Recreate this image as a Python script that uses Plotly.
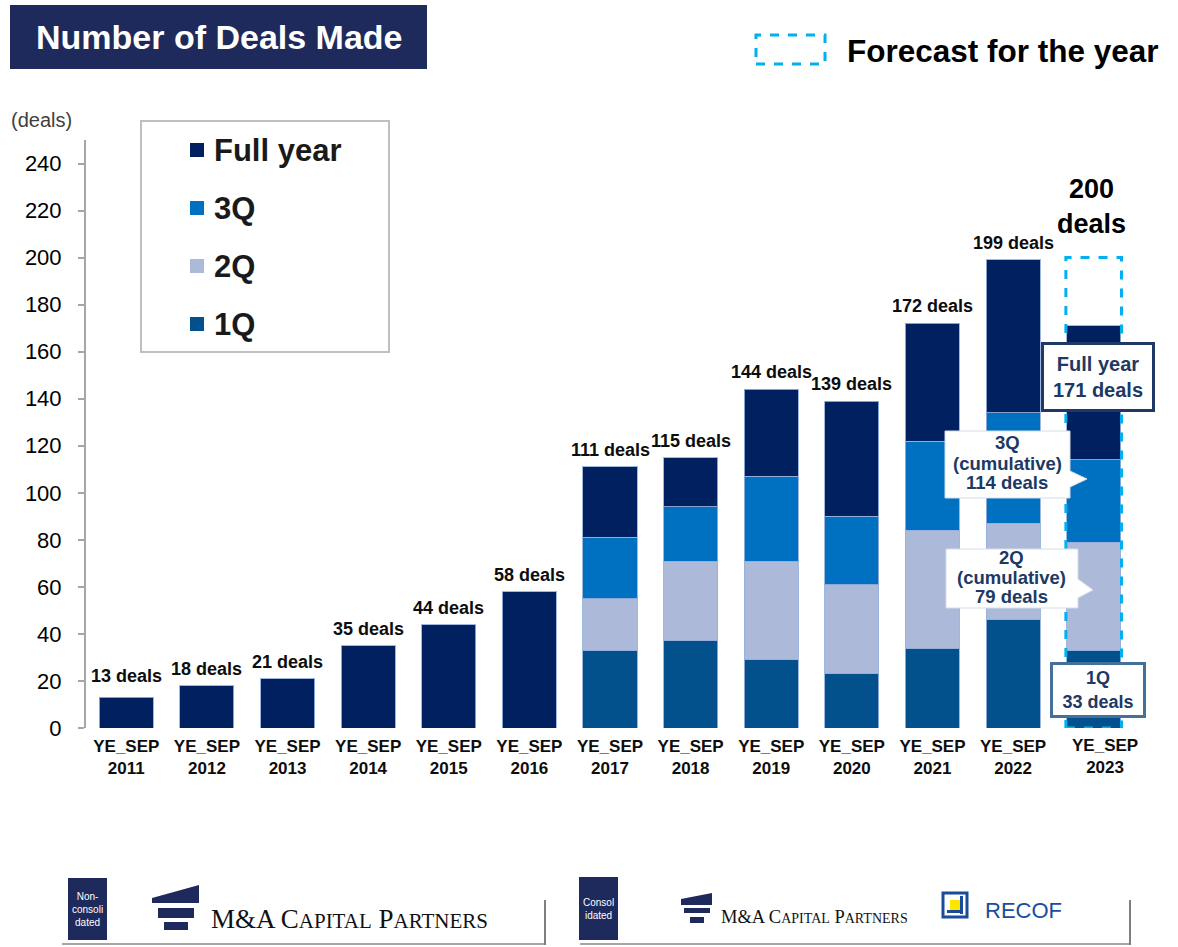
import plotly.graph_objects as go

# ---------------- data ----------------
fiscal_years = ["2011", "2012", "2013", "2014", "2015", "2016", "2017",
                "2018", "2019", "2020", "2021", "2022", "2023"]
tick_labels = ["YE_SEP<br>2011", "YE_SEP<br>2012", "YE_SEP<br>2013", "YE_SEP<br>2014",
               "YE_SEP<br>2015", "YE_SEP<br>2016", "YE_SEP<br>2017", "YE_SEP<br>2018",
               "YE_SEP<br>2019", "YE_SEP<br>2020", "YE_SEP<br>2021", "YE_SEP<br>2022",
               "YE_SEP<br>2023"]
full_year = [13, 18, 21, 35, 44, 58, 111, 115, 144, 139, 172, 199, 171]
q3_cumulative = [None, None, None, None, None, None, 81, 94, 107, 90, 122, 134, 114]
q2_cumulative = [None, None, None, None, None, None, 55, 71, 71, 61, 84, 87, 79]
q1_value = [None, None, None, None, None, None, 33, 37, 29, 23, 34, 46, 33]
forecast_year = "2023"
forecast_value = 200
y_ticks = [0, 20, 40, 60, 80, 100, 120, 140, 160, 180, 200, 220, 240]

# ---------------- styles ----------------
C_FY = "#002060"
C_3Q = "#0070C0"
C_2Q = "#ADB9D8"
C_1Q = "#02508C"
NAVY = "#1F2A5C"
TXT_NAVY = "#203864"
FORECAST = "#00B0F0"
FONT = "Liberation Sans, Arial, sans-serif"
SERIF = "Liberation Serif, Times New Roman, serif"

W, H = 1178, 947
L, R, T, B = 86, 44, 140, 219
PW, PH = W - L - R, H - T - B


def px(x):
    return (x - L) / PW


def py(y):
    return (H - B - y) / PH


def seg(top, bottom):
    out = []
    for t, b in zip(top, bottom):
        if t is None:
            out.append(None)
        else:
            out.append(t - (b or 0))
    return out


q1_seg = list(q1_value)
q2_seg = seg(q2_cumulative, q1_value)
q3_seg = seg(q3_cumulative, q2_cumulative)
fy_seg = [f - (q or 0) for f, q in zip(full_year, q3_cumulative)]

edge = dict(color="rgba(150,175,220,0.9)", width=1)
fig = go.Figure()
for name, vals, col in [("1Q", q1_seg, C_1Q), ("2Q", q2_seg, C_2Q),
                        ("3Q", q3_seg, C_3Q), ("Full year", fy_seg, C_FY)]:
    fig.add_trace(go.Bar(x=fiscal_years, y=vals, name=name,
                         marker=dict(color=col, line=edge),
                         showlegend=False, hoverinfo="skip"))

shapes = []
annotations = []

# value labels above bars (except forecast year); x given as category index
for i, (yr, v) in enumerate(zip(fiscal_years, full_year)):
    if yr == forecast_year:
        continue
    annotations.append(dict(x=i, y=v, xref="x", yref="y", text=f"{v} deals",
                            showarrow=False, yanchor="bottom",
                            yshift=9 if i == 0 else 5,
                            font=dict(family=FONT, size=18, color="#0d0d0d", weight="bold")))

# forecast dashed box in data coordinates
fi = fiscal_years.index(forecast_year)
shapes.append(dict(type="rect", xref="x", yref="y", x0=fi - 0.345, x1=fi + 0.345,
                   y0=0, y1=forecast_value, layer="above",
                   line=dict(color=FORECAST, width=3, dash="dash")))
annotations.append(dict(x=fi, y=forecast_value, xref="x", yref="y",
                        text=f"{forecast_value}<br>deals", showarrow=False,
                        yanchor="middle", yshift=51, xshift=-2,
                        font=dict(family=FONT, size=27, color="#000", weight="bold")))

# 2023 tick label (slightly offset, as in the reference)
annotations.append(dict(x=fi, y=0, xref="x", yref="y", text=tick_labels[fi],
                        showarrow=False, yanchor="top", yshift=-6, xshift=11,
                        font=dict(family=FONT, size=17, color="#0d0d0d", weight="bold")))


def path(points):
    s = "M " + " L ".join(f"{px(a):.5f},{py(b):.5f}" for a, b in points) + " Z"
    return s


def rect_px(x0, y0, x1, y1, fill, line=None, lw=0, dash=None):
    d = dict(type="rect", xref="paper", yref="paper", x0=px(x0), x1=px(x1),
             y0=py(y1), y1=py(y0), fillcolor=fill, layer="above",
             line=dict(color=line or fill, width=lw))
    if dash:
        d["line"]["dash"] = dash
    shapes.append(d)


def text_px(x, y, text, size, color="#000", weight="normal", xanchor="center",
            family=FONT, **kw):
    annotations.append(dict(x=px(x), y=py(y), xref="paper", yref="paper", text=text,
                            showarrow=False, xanchor=xanchor, yanchor="middle",
                            font=dict(family=family, size=size, color=color, weight=weight),
                            **kw))


# callouts for 2023 quarters
shapes.append(dict(type="path", xref="paper", yref="paper", layer="above",
                   path=path([(945, 431), (1070, 431), (1070, 471), (1087, 479),
                              (1070, 487), (1070, 498), (945, 498)]),
                   fillcolor="white", line=dict(color="#D5DDEA", width=1)))
for yy, t in [(442, "3Q"), (463, "(cumulative)"), (482, f"{q3_cumulative[fi]} deals")]:
    text_px(1007, yy, t, 18.5, TXT_NAVY, "bold")

shapes.append(dict(type="path", xref="paper", yref="paper", layer="above",
                   path=path([(946, 549), (1078, 549), (1078, 579), (1093, 590),
                              (1078, 598), (1078, 608), (946, 608)]),
                   fillcolor="white", line=dict(color="#D5DDEA", width=1)))
for yy, t in [(557, "2Q"), (577, "(cumulative)"), (596, f"{q2_cumulative[fi]} deals")]:
    text_px(1011, yy, t, 18.5, TXT_NAVY, "bold")

annotations.append(dict(x=px(1098), y=py(377), xref="paper", yref="paper",
                        text=f"Full year<br>{full_year[fi]} deals", showarrow=False,
                        xanchor="center", yanchor="middle", width=100, height=56,
                        bgcolor="white", bordercolor="#1F3864", borderwidth=3, borderpad=4,
                        font=dict(family=FONT, size=20, color=TXT_NAVY, weight="bold")))
annotations.append(dict(x=px(1098), y=py(690), xref="paper", yref="paper",
                        text=f"1Q<br>{q1_value[fi]} deals", showarrow=False,
                        xanchor="center", yanchor="middle", width=86, height=46,
                        bgcolor="white", bordercolor="#44709A", borderwidth=3, borderpad=2,
                        font=dict(family=FONT, size=18, color=TXT_NAVY, weight="bold")))

# title box
rect_px(10, 5, 427, 69, NAVY)
text_px(219, 37, "Number of Deals Made", 34, "white", "bold")

# forecast legend
rect_px(756, 35, 825, 64, "rgba(0,0,0,0)", FORECAST, 3, "dash")
text_px(845, 51, "Forecast for the year", 31.5, "#000", "bold", xanchor="left")

# unit label
text_px(9, 120, "(deals)", 20, "#404040", xanchor="left")

# legend box
rect_px(141, 121, 389, 352, "white", "#BFBFBF", 2)
for i, (nm, col) in enumerate([("Full year", C_FY), ("3Q", C_3Q), ("2Q", C_2Q), ("1Q", C_1Q)]):
    yc = 150 + 58 * i
    rect_px(190, yc - 7, 204, yc + 7, col)
    text_px(212, yc, nm, 31, "#1a1a1a", "bold", xanchor="left")

# footer: non-consolidated
rect_px(68, 878, 107, 940, NAVY)
text_px(87.5, 909, "Non-<br>consoli<br>dated", 10, "white")
shapes.append(dict(type="path", xref="paper", yref="paper", layer="above",
                   path=path([(152, 898), (199, 885), (199, 903), (152, 903)]),
                   fillcolor=NAVY, line=dict(width=0)))
rect_px(158, 908, 194, 918, NAVY)
rect_px(164, 922, 188, 930, NAVY)
text_px(209, 919, "M&amp;A C<span style='font-size:21px'>APITAL</span> P"
                  "<span style='font-size:21px'>ARTNERS</span>", 27, "#111",
        xanchor="left", family=SERIF)
shapes.append(dict(type="line", xref="paper", yref="paper", layer="above",
                   x0=px(62), x1=px(545), y0=py(944), y1=py(944),
                   line=dict(color="#A6A6A6", width=2)))
shapes.append(dict(type="line", xref="paper", yref="paper", layer="above",
                   x0=px(545), x1=px(545), y0=py(900), y1=py(945),
                   line=dict(color="#7F7F7F", width=2)))

# footer: consolidated
rect_px(579, 877, 618, 940, NAVY)
text_px(598.5, 909, "Consol<br>idated", 10, "white")
shapes.append(dict(type="path", xref="paper", yref="paper", layer="above",
                   path=path([(681, 899), (712, 893), (712, 905), (681, 905)]),
                   fillcolor=NAVY, line=dict(width=0)))
rect_px(684, 908, 710, 913, NAVY)
rect_px(690, 917, 704, 923, NAVY)
text_px(719, 917, "M&amp;A C<span style='font-size:14px'>APITAL</span> P"
                  "<span style='font-size:14px'>ARTNERS</span>", 18.5, "#111",
        xanchor="left", family=SERIF)
# RECOF mark
RB = "#1A4C9C"
rect_px(943, 893, 967, 917, "white", RB, 3)
rect_px(950, 900, 960, 910, "#FFE600")
rect_px(960, 896, 963, 914, RB)
rect_px(947, 910, 960, 913, RB)
text_px(983, 910, "RECOF", 22, RB, xanchor="left")
shapes.append(dict(type="line", xref="paper", yref="paper", layer="above",
                   x0=px(580), x1=px(1130), y0=py(944), y1=py(944),
                   line=dict(color="#A6A6A6", width=2)))
shapes.append(dict(type="line", xref="paper", yref="paper", layer="above",
                   x0=px(1130), x1=px(1130), y0=py(900), y1=py(945),
                   line=dict(color="#7F7F7F", width=2)))

fig.update_layout(
    width=W, height=H, autosize=False,
    margin=dict(l=L, r=R, t=T, b=B, pad=0),
    paper_bgcolor="white", plot_bgcolor="white",
    barmode="stack", bargap=0.33,
    showlegend=False,
    shapes=shapes, annotations=annotations,
    font=dict(family=FONT),
    xaxis=dict(type="category", range=[-0.5, 12.5], showline=False, showgrid=False,
               zeroline=False, ticks="", tickmode="array", tickvals=fiscal_years,
               ticktext=[t if y != forecast_year else "" for t, y in zip(tick_labels, fiscal_years)],
               tickfont=dict(family=FONT, size=17, color="#0d0d0d", weight="bold"),
               ticklabelstandoff=6),
    yaxis=dict(range=[0, 250], tickvals=y_ticks, showgrid=False, zeroline=False,
               showline=True, linecolor="#A6A6A6", linewidth=2,
               ticks="outside", ticklen=6, tickcolor="#A6A6A6", tickwidth=2,
               tickfont=dict(family=FONT, size=22, color="#000"),
               ticklabelstandoff=12),
)

fig.write_html("out.html", config={"displayModeBar": False},
               post_script="document.body.style.margin='0';")
